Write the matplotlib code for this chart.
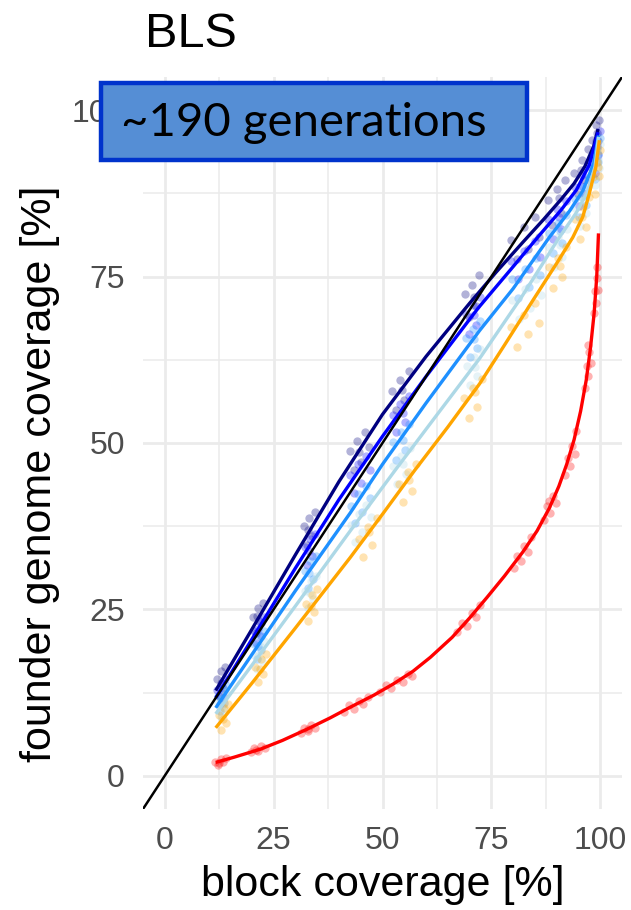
import matplotlib
matplotlib.use("Agg")
import matplotlib.pyplot as plt
from matplotlib.patches import Rectangle
import numpy as np

W, H = 631, 910

# fitted curves (block coverage %, founder genome coverage %)
navy_line_x = [11.7, 20, 30, 40, 50, 60, 70, 76, 82, 87, 91, 94, 96.5, 98.5, 99.5]
navy_line_y = [12.8, 22.0, 33.2, 44.2, 54.3, 63.0, 71.0, 75.6, 80.0, 83.6, 86.6, 89.0, 91.6, 94.6, 97.2]
blue_line_x = [11.7, 20, 30, 40, 50, 60, 72, 80, 86, 91, 94.5, 97.5, 99.5]
blue_line_y = [11.7, 20.5, 31.2, 41.5, 51.0, 60.0, 70.3, 76.5, 81.2, 85.0, 88.0, 91.8, 96.7]
dodger_line_x = [11.7, 20, 30, 42.6, 50, 60, 72.3, 80, 88.3, 93, 96, 98.5, 99.6]
dodger_line_y = [10.2, 18.2, 27.8, 39.5, 46.8, 56.0, 66.9, 73.2, 80.9, 84.9, 87.9, 92.0, 96.2]
light_line_x = [11.7, 20, 30, 42.6, 52.9, 62, 72.3, 82, 90.6, 94.5, 97.1, 98.8, 99.6]
light_line_y = [9.3, 16.6, 25.5, 36.8, 45.9, 53.8, 62.7, 72.0, 80.9, 84.6, 87.8, 91.5, 96.0]
orange_line_x = [11.7, 20, 30, 42.6, 50, 57.4, 65, 72.3, 78, 84.5, 90, 93.7, 96, 97.5, 99.0, 99.8]
orange_line_y = [7.2, 13.9, 22.2, 32.8, 39.3, 45.9, 52.4, 58.9, 64.7, 71.4, 77.0, 80.9, 84.0, 87.5, 91.5, 95.5]
red_line_x = [11.7, 16, 22, 27, 32.7, 38, 42.6, 48, 52.5, 57, 61, 66, 70, 74, 78, 82.2,
              85.5, 88.3, 90.5, 92.3, 94, 95.5, 96.8, 97.8, 98.6, 99.2, 99.6]
red_line_y = [2.0, 2.8, 4.0, 5.3, 7.0, 8.7, 10.3, 12.1, 13.8, 15.7, 17.8, 20.8, 23.7, 26.8, 30.0, 33.6,
              36.8, 40.2, 43.5, 46.8, 50.5, 54.8, 59.5, 64.5, 69.5, 75.0, 81.5]

# replicate points
navy_pts_x = [12.0, 12.5, 13.0, 13.4, 13.8, 12.8, 20.3, 20.9, 21.5, 22.0, 22.6, 21.2,
              32.0, 32.6, 33.2, 33.8, 34.5, 33.0, 42.5, 43.4, 44.2, 45.0, 46.0, 47.0, 44.6,
              52.2, 53.0, 54.0, 55.0, 56.0, 54.5, 69.0, 69.8, 70.6, 71.4, 72.2, 70.9,
              79.5, 81.0, 82.5, 83.5, 85.0, 86.0, 88.0, 89.0, 90.0, 91.0, 92.0, 90.5,
              94.0, 95.0, 95.8, 96.5, 97.2, 95.5, 98.0, 98.6, 99.0, 99.4, 99.8, 99.2]
navy_pts_y = [14.5, 12.0, 15.8, 13.2, 16.4, 14.0, 23.8, 21.5, 25.2, 22.9, 26.0, 24.0,
              37.5, 34.6, 38.8, 36.0, 39.6, 36.9, 48.8, 45.9, 50.3, 47.2, 51.6, 49.4, 48.6,
              57.8, 54.9, 59.5, 56.5, 60.8, 57.9, 72.4, 69.0, 73.8, 70.6, 75.2, 72.0,
              80.5, 77.6, 82.4, 79.2, 84.0, 81.0, 86.5, 82.8, 88.2, 84.6, 89.5, 86.8,
              90.5, 87.4, 92.6, 89.5, 94.2, 91.0, 95.5, 92.8, 97.8, 95.4, 98.6, 96.6]
blue_pts_x = [12.1, 12.6, 13.1, 13.5, 13.9, 12.9, 20.4, 21.0, 21.6, 22.1, 22.7, 21.3,
              32.1, 32.7, 33.3, 33.9, 34.6, 33.1, 42.6, 43.5, 44.3, 45.1, 46.1, 47.1,
              52.3, 53.1, 54.1, 55.1, 56.1, 54.6, 69.1, 69.9, 70.7, 71.5, 72.3, 71.0,
              79.6, 81.1, 82.6, 83.6, 85.1, 86.1, 88.1, 89.1, 90.1, 91.1, 92.1, 90.6,
              94.1, 95.1, 95.9, 96.6, 97.3, 95.6, 98.1, 98.7, 99.1, 99.5, 99.9, 99.3]
blue_pts_y = [12.9, 10.8, 14.0, 11.9, 14.6, 12.6, 21.8, 19.9, 23.2, 21.0, 23.9, 22.0,
              34.3, 31.6, 35.6, 33.0, 36.4, 33.8, 45.2, 42.5, 46.8, 44.0, 48.0, 46.0,
              54.2, 51.6, 55.8, 53.1, 57.0, 54.5, 69.4, 66.4, 70.7, 67.8, 71.9, 69.2,
              77.3, 74.6, 78.9, 76.1, 80.4, 78.0, 83.7, 80.6, 85.2, 82.2, 86.4, 83.9,
              88.4, 85.6, 90.2, 87.4, 91.6, 88.6, 93.2, 90.6, 95.4, 93.3, 96.9, 94.6]
dodger_pts_x = [12.2, 12.7, 13.2, 13.6, 14.0, 13.0, 20.5, 21.1, 21.7, 22.2, 22.8, 21.4,
                32.2, 32.8, 33.4, 34.0, 34.7, 33.2, 42.7, 43.6, 44.4, 45.2, 46.2, 47.2,
                52.4, 53.2, 54.2, 55.2, 56.2, 54.7, 69.2, 70.0, 70.8, 71.6, 72.4, 71.1,
                79.7, 81.2, 82.7, 83.7, 85.2, 86.2, 88.2, 89.2, 90.2, 91.2, 92.2, 90.7,
                94.2, 95.2, 96.0, 96.7, 97.4, 95.7, 98.2, 98.8, 99.2, 99.6, 99.9, 99.4]
dodger_pts_y = [12.0, 9.8, 13.0, 10.9, 13.6, 11.5, 19.8, 17.6, 21.0, 18.9, 21.7, 19.5,
                30.8, 28.2, 32.2, 29.6, 33.0, 30.5, 40.6, 38.0, 42.3, 39.6, 43.6, 41.8,
                50.1, 47.4, 51.7, 49.0, 52.9, 50.4, 65.8, 62.9, 67.1, 64.3, 68.4, 65.6,
                74.6, 71.8, 76.2, 73.4, 77.8, 75.3, 81.5, 78.6, 83.0, 80.1, 84.3, 81.8,
                86.6, 83.9, 88.5, 85.8, 90.0, 87.0, 92.0, 89.6, 94.4, 92.2, 95.8, 93.5]
light_pts_x = [12.3, 12.8, 13.3, 13.7, 14.1, 13.1, 20.6, 21.2, 21.8, 22.3, 22.9, 21.5,
               32.3, 32.9, 33.5, 34.1, 34.8, 33.3, 42.8, 43.7, 44.5, 45.3, 46.3, 47.3,
               52.5, 53.3, 54.3, 55.3, 56.3, 54.8, 69.3, 70.1, 70.9, 71.7, 72.5, 71.2,
               79.8, 81.3, 82.8, 83.8, 85.3, 86.3, 88.3, 89.3, 90.3, 91.3, 92.3, 90.8,
               94.3, 95.3, 96.1, 96.8, 97.5, 95.8, 98.3, 98.9, 99.3, 99.7, 99.9, 99.5]
light_pts_y = [11.0, 8.8, 12.0, 9.9, 12.6, 10.5, 18.2, 16.0, 19.5, 17.3, 20.2, 18.0,
               27.8, 25.2, 29.2, 26.6, 30.0, 27.5, 37.7, 35.1, 39.4, 36.7, 40.7, 38.9,
               46.5, 43.8, 48.1, 45.4, 49.3, 46.8, 61.6, 58.7, 62.9, 60.1, 64.2, 61.4,
               71.5, 68.7, 73.1, 70.3, 74.7, 72.2, 79.4, 76.5, 80.9, 78.0, 82.2, 79.7,
               85.3, 82.6, 87.2, 84.5, 88.7, 85.7, 91.2, 88.8, 93.6, 91.4, 95.0, 92.7]
orange_pts_x = [12.4, 13.0, 13.5, 14.0, 14.6, 13.3, 20.8, 21.4, 22.0, 22.6, 23.2, 21.8,
                32.4, 33.0, 33.7, 34.3, 35.0, 33.5, 44.5, 45.6, 46.6, 47.6, 48.7, 47.0,
                53.8, 54.8, 55.8, 56.8, 57.8, 56.0, 68.8, 69.8, 70.8, 71.8, 72.8, 71.2,
                79.5, 81.0, 82.5, 83.5, 85.0, 86.0, 88.2, 89.2, 90.2, 91.2, 92.2, 90.7,
                94.3, 95.3, 96.1, 96.8, 97.5, 95.8, 98.3, 98.9, 99.3, 99.7, 99.9, 99.5]
orange_pts_y = [9.2, 6.8, 10.2, 7.9, 10.8, 8.5, 16.4, 14.1, 17.6, 15.3, 18.3, 16.0,
                25.8, 23.2, 27.2, 24.6, 28.1, 25.5, 35.5, 32.9, 37.4, 34.6, 38.7, 36.6,
                43.9, 41.1, 45.6, 42.8, 46.8, 44.5, 56.8, 53.8, 58.2, 55.4, 59.6, 57.6,
                67.5, 64.5, 69.2, 66.4, 71.0, 68.0, 76.4, 73.3, 77.8, 75.0, 79.4, 76.6,
                83.6, 80.6, 85.4, 82.5, 87.0, 83.9, 90.0, 87.4, 92.3, 90.1, 94.0, 91.5]
red_pts_x = [11.6, 12.2, 12.8, 13.4, 14.0, 12.5, 19.8, 20.6, 21.4, 22.2, 23.0, 21.0,
             31.2, 32.0, 32.8, 33.6, 34.4, 33.0, 41.2, 42.4, 43.5, 44.5, 45.6, 46.6,
             49.5, 50.8, 52.0, 53.3, 54.6, 55.9, 56.8, 67.2, 68.3, 69.4, 70.5, 71.5, 72.5,
             80.2, 81.0, 81.8, 82.6, 83.4, 84.2, 87.2, 87.8, 88.5, 89.1, 89.8, 88.2,
             92.0, 92.6, 93.1, 93.6, 94.1, 94.5, 96.5, 96.9, 97.2, 97.5, 97.8, 97.1,
             98.6, 98.9, 99.1, 99.3, 99.5, 99.2]
red_pts_y = [2.0, 1.6, 2.5, 2.1, 2.7, 1.9, 3.5, 4.2, 3.7, 4.5, 4.1, 3.9,
             6.4, 7.1, 6.7, 7.6, 7.2, 7.0, 9.6, 10.6, 10.0, 11.2, 10.8, 11.8,
             12.6, 13.6, 13.2, 14.4, 14.1, 15.3, 15.0, 21.6, 22.9, 22.5, 24.4, 23.9, 25.6,
             31.2, 33.0, 32.2, 34.5, 33.6, 35.8, 38.4, 40.5, 39.5, 42.0, 41.0, 41.3,
             45.2, 47.8, 46.6, 49.6, 48.4, 51.8, 58.3, 61.5, 60.0, 63.6, 62.0, 64.8,
             69.5, 72.8, 71.0, 74.8, 73.0, 76.5]

ticks = [0, 25, 50, 75, 100]

series = [
    ("navy", navy_pts_x, navy_pts_y, navy_line_x, navy_line_y),
    ("blue", blue_pts_x, blue_pts_y, blue_line_x, blue_line_y),
    ("#1E90FF", dodger_pts_x, dodger_pts_y, dodger_line_x, dodger_line_y),
    ("#ADD8E6", light_pts_x, light_pts_y, light_line_x, light_line_y),
    ("orange", orange_pts_x, orange_pts_y, orange_line_x, orange_line_y),
    ("red", red_pts_x, red_pts_y, red_line_x, red_line_y),
]

plt.rcParams['font.family'] = ['Liberation Sans', 'DejaVu Sans']

fig = plt.figure(figsize=(W / 100, H / 100), dpi=100)
ax = fig.add_axes([143 / W, 1 - 809 / H, (622 - 143) / W, (809 - 77) / H])

for col, px, py, lx, ly in series:
    ax.scatter(px, py, s=36, color=col, alpha=0.3, lw=0, zorder=2)
for col, px, py, lx, ly in series:
    ax.plot(lx, ly, color=col, lw=2.4, zorder=3, solid_capstyle='butt',
            solid_joinstyle='round')

ax.axline((0, 0), slope=1, color='black', lw=1.8, zorder=4)

ax.set_xlim(-5, 105)
ax.set_ylim(-5, 105)
ax.set_xticks(ticks)
ax.set_yticks(ticks)
ax.set_xticks([12.5, 37.5, 62.5, 87.5], minor=True)
ax.set_yticks([12.5, 37.5, 62.5, 87.5], minor=True)
ax.grid(which='major', color='#EBEBEB', lw=2.0, zorder=0)
ax.grid(which='minor', color='#EBEBEB', lw=1.1, zorder=0)
ax.set_axisbelow(True)
for s in ax.spines.values():
    s.set_visible(False)
ax.tick_params(which='both', length=0, labelsize=23, labelcolor='#4D4D4D')
ax.tick_params(axis='x', pad=12)
ax.tick_params(axis='y', pad=13)

ax.set_xlabel("block coverage [%]", fontsize=31, labelpad=7)
fig.text(40 / W, 1 - 474 / H, "founder genome coverage [%]", fontsize=31,
         rotation=90, ha='center', va='center')

fig.text(145 / W, 1 - 47 / H, "BLS", fontsize=35, ha='left', va='baseline')

# label box
fig.patches.append(Rectangle((101 / W, 1 - 160 / H), 426 / W, 77 / H,
                             transform=fig.transFigure, facecolor='#558ED5',
                             edgecolor='#0033CC', lw=3.2, zorder=10))
fig.text(121 / W, 1 - 123 / H, "~190 generations", fontsize=34, family='Lato',
         ha='left', va='center', color='black', zorder=11)

fig.savefig("out.png", dpi=100)
